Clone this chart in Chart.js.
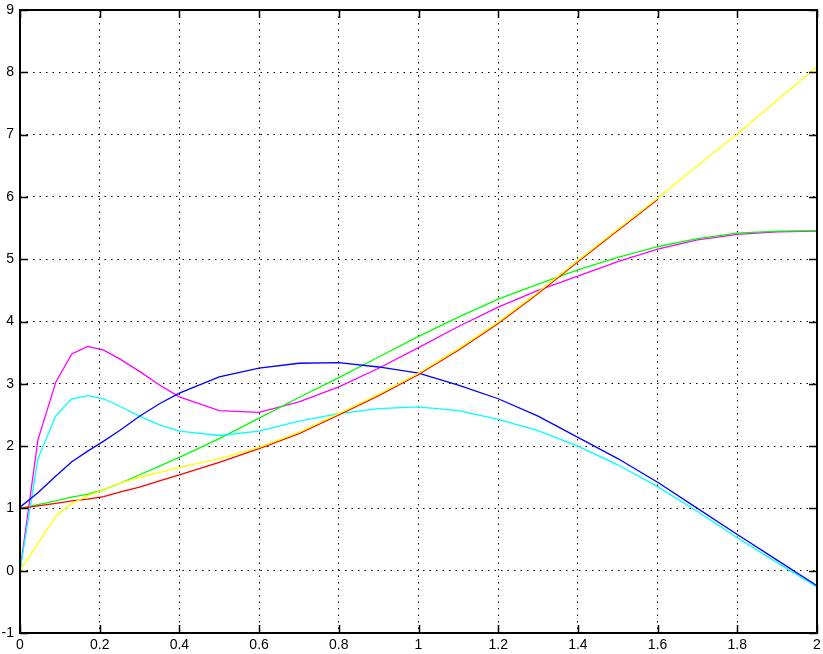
<!DOCTYPE html>
<html lang="en">
<head>
  <meta charset="UTF-8" />
  <title>Curves 0 to 2</title>
  <script src="https://cdn.jsdelivr.net/npm/chart.js"></script>
  <style>
    body {
      margin: 0;
      background: #fff;
    }
    #wrap {
      width: 823px;
      height: 654px;
    }
  </style>
</head>
<body>
  <div id="wrap"><canvas id="plot" width="823" height="654"></canvas></div>

  <script>
    // sample positions along x
    const xs = [0, 0.045, 0.09, 0.13, 0.17, 0.21, 0.25, 0.3, 0.35, 0.4, 0.5, 0.6, 0.7,
                0.8, 0.9, 1.0, 1.1, 1.2, 1.3, 1.4, 1.5, 1.6, 1.7, 1.8, 1.9, 2.0];

    const blue    = [1.02, 1.25, 1.52, 1.75, 1.92, 2.08, 2.25, 2.48, 2.68, 2.85, 3.11, 3.25, 3.33,
                     3.34, 3.27, 3.17, 2.98, 2.76, 2.48, 2.14, 1.8, 1.42, 1.0, 0.58, 0.17, -0.24];
    const green   = [1.0, 1.06, 1.12, 1.18, 1.23, 1.3, 1.4, 1.54, 1.68, 1.82, 2.12, 2.45, 2.78,
                     3.1, 3.43, 3.76, 4.07, 4.36, 4.6, 4.83, 5.03, 5.2, 5.33, 5.42, 5.45, 5.46];
    const red     = [1.0, 1.04, 1.08, 1.12, 1.15, 1.19, 1.26, 1.34, 1.44, 1.54, 1.74, 1.96, 2.2,
                     2.5, 2.81, 3.15, 3.54, 3.97, 4.45, 4.96, 5.46, 5.96, null, null, null, null];
    const cyan    = [0, 1.8, 2.49, 2.76, 2.81, 2.76, 2.64, 2.48, 2.34, 2.24, 2.17, 2.24, 2.4,
                     2.52, 2.6, 2.63, 2.57, 2.43, 2.25, 2.0, 1.7, 1.35, 0.95, 0.53, 0.13, -0.26];
    const magenta = [0, 2.1, 3.03, 3.48, 3.6, 3.54, 3.4, 3.2, 2.98, 2.79, 2.57, 2.54, 2.71,
                     2.95, 3.25, 3.58, 3.92, 4.23, 4.5, 4.73, 4.96, 5.16, 5.31, 5.4, 5.44, 5.45];
    const yellow  = [0, 0.44, 0.87, 1.08, 1.2, 1.3, 1.4, 1.5, 1.58, 1.66, 1.8, 1.98, 2.22,
                     2.52, 2.83, 3.17, 3.56, 3.99, 4.47, 4.98, 5.48, 5.98, 6.5, 7.01, 7.55, 8.09];

    function pts(ys) {
      return xs.map((x, i) => ({ x: x, y: ys[i] }));
    }

    function line(data, color, order) {
      return {
        data: pts(data),
        borderColor: color,
        borderWidth: 1.3,
        pointRadius: 0,
        tension: 0,
        fill: false,
        spanGaps: false,
        order: order
      };
    }

    // box round the plot with small inward ticks on all four sides
    const boxPlugin = {
      id: 'box',
      afterDatasetsDraw(chart) {
        const ctx = chart.ctx;
        const a = chart.chartArea;
        const sx = chart.scales.x, sy = chart.scales.y;
        const len = 8;
        ctx.save();
        ctx.strokeStyle = '#000';
        ctx.lineWidth = 1.5;
        ctx.beginPath();
        sx.ticks.forEach(t => {
          const p = Math.round(sx.getPixelForValue(t.value)) + 0.5;
          ctx.moveTo(p, a.bottom); ctx.lineTo(p, a.bottom - len);
          ctx.moveTo(p, a.top); ctx.lineTo(p, a.top + len);
        });
        sy.ticks.forEach(t => {
          const p = Math.round(sy.getPixelForValue(t.value)) + 0.5;
          ctx.moveTo(a.left, p); ctx.lineTo(a.left + len, p);
          ctx.moveTo(a.right, p); ctx.lineTo(a.right - len, p);
        });
        ctx.stroke();
        ctx.lineWidth = 2;
        ctx.strokeRect(a.left, a.top, a.right - a.left, a.bottom - a.top);
        ctx.restore();
      }
    };

    const tickFont = { family: 'Liberation Sans, Arial, sans-serif', size: 14 };

    new Chart(document.getElementById('plot'), {
      type: 'line',
      data: {
        datasets: [
          line(yellow, '#ffff00', 0),
          line(red, '#ff0000', 1),
          line(blue, '#0000ff', 2),
          line(cyan, '#00ffff', 3),
          line(green, '#00ff00', 4),
          line(magenta, '#ff00ff', 5)
        ]
      },
      options: {
        responsive: false,
        animation: false,
        events: [],
        layout: { padding: { top: 10, right: 6, left: 0, bottom: 0 } },
        plugins: {
          legend: { display: false },
          tooltip: { enabled: false }
        },
        scales: {
          x: {
            type: 'linear',
            min: 0,
            max: 2,
            afterFit: s => { s.height = 21; s.paddingLeft = 0; s.paddingRight = 0; },
            ticks: {
              stepSize: 0.2, color: '#000', font: tickFont, padding: 4, maxRotation: 0,
              callback: v => String(Number(v.toFixed(1)))
            },
            grid: { color: '#000', lineWidth: 1, drawTicks: false },
            border: { display: false, dash: [1.5, 5] }
          },
          y: {
            type: 'linear',
            min: -1,
            max: 9,
            afterFit: s => { s.width = 20; s.paddingTop = 0; s.paddingBottom = 0; },
            ticks: { stepSize: 1, color: '#000', font: tickFont, padding: 6 },
            grid: { color: '#000', lineWidth: 1, drawTicks: false },
            border: { display: false, dash: [1.5, 5] }
          }
        }
      },
      plugins: [boxPlugin]
    });
  </script>
</body>
</html>
